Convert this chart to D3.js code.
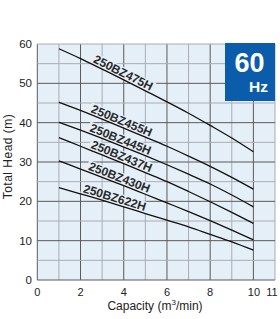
<!DOCTYPE html>
<html>
<head>
<meta charset="utf-8">
<script src="https://cdn.jsdelivr.net/npm/d3@7"></script>
<style>
  html, body { margin: 0; padding: 0; background: #fff; }
  svg { display: block; }
  text { font-family: "Liberation Sans", Arial, sans-serif; }
</style>
</head>
<body>
<svg id="chart" width="280" height="319"></svg>
<script>
// ---- data ----
const capacity = [1, 2, 3, 4, 5, 6, 7, 8, 9, 10];
const seriesNames = ["250BZ475H", "250BZ455H", "250BZ445H", "250BZ437H", "250BZ430H", "250BZ622H"];
const head475 = [58.8, 56.3, 53.6, 50.9, 48.1, 45.3, 42.4, 39.3, 36.1, 32.6];
const head455 = [45.2, 43.1, 40.9, 38.6, 36.3, 34.0, 31.5, 28.9, 26.1, 23.1];
const head445 = [40.1, 38.1, 36.0, 33.8, 31.6, 29.3, 26.9, 24.4, 21.6, 18.6];
const head437 = [36.2, 34.0, 31.8, 29.6, 27.3, 25.0, 22.5, 19.9, 17.2, 14.4];
const head430 = [30.3, 28.2, 26.1, 24.0, 21.8, 19.6, 17.4, 15.1, 12.7, 10.2];
const head622 = [23.5, 21.9, 20.3, 18.6, 16.9, 15.2, 13.5, 11.6, 9.7, 7.6];
const labelAt = [3.85, 3.8, 3.75, 3.8, 3.7, 3.5];
const xTickValues = [0, 2, 4, 6, 8, 10, 11];
const yTickValues = [0, 10, 20, 30, 40, 50, 60];
const xTitle = "Capacity (m";
const yTitle = "Total Head (m)";
const freqLabel = "60";
const freqUnit = "Hz";

const allHeads = [head475, head455, head445, head437, head430, head622];

// ---- layout ----
const svg = d3.select("#chart");
const L = 37.3, R = 275, T = 44, B = 280;
const x = d3.scaleLinear().domain([0, 11]).range([L, R]);
const y = d3.scaleLinear().domain([0, 60]).range([B, T]);

// plot background
svg.append("rect").attr("x", L).attr("y", T).attr("width", R - L).attr("height", B - T)
  .attr("fill", "#e5eff8");

// grid
const gx = d3.range(0, 12, 1);
const gy = d3.range(0, 61, 5);
svg.append("g").selectAll("line").data(gx).join("line")
  .attr("x1", d => x(d)).attr("x2", d => x(d)).attr("y1", T).attr("y2", B)
  .attr("stroke", d => (d % 2 === 0 && d < 11) ? "#5a5a5a" : "#a9acb4")
  .attr("stroke-width", 1);
svg.append("g").selectAll("line").data(gy).join("line")
  .attr("x1", L).attr("x2", R).attr("y1", d => y(d)).attr("y2", d => y(d))
  .attr("stroke", d => (d % 10 === 0 && d < 60) ? "#5a5a5a" : "#a9acb4")
  .attr("stroke-width", 1);

// curves
const line = d3.line().x(d => x(d[0])).y(d => y(d[1])).curve(d3.curveMonotoneX);
function interp(vals, u) {
  const i = Math.max(0, Math.min(capacity.length - 2, Math.floor(u - capacity[0])));
  const t = (u - capacity[i]) / (capacity[i + 1] - capacity[i]);
  return vals[i] + t * (vals[i + 1] - vals[i]);
}

const labelG = svg.append("g");
const curveG = svg.append("g");
const textG = svg.append("g");

allHeads.forEach((vals, k) => {
  const pts = capacity.map((c, i) => [c, vals[i]]);
  curveG.append("path").attr("d", line(pts))
    .attr("fill", "none").attr("stroke", "#111").attr("stroke-width", 1.3);

  const u = labelAt[k];
  const px = x(u), py = y(interp(vals, u));
  const x1 = x(u - 1.2), y1 = y(interp(vals, u - 1.2));
  const x2 = x(u + 1.2), y2 = y(interp(vals, u + 1.2));
  const ang = Math.atan2(y2 - y1, x2 - x1) * 180 / Math.PI;

  const tg = textG.append("g").attr("transform", `translate(${px},${py}) rotate(${ang})`);
  const t = tg.append("text").attr("x", 0).attr("y", -2)
    .attr("text-anchor", "middle").attr("font-size", 12).attr("font-weight", "bold")
    .attr("fill", "#2a2a2a")
    .text(seriesNames[k]);
  const w = t.node().getComputedTextLength();
  labelG.append("rect")
    .attr("transform", `translate(${px},${py}) rotate(${ang})`)
    .attr("x", -w / 2 - 2).attr("y", -11.5).attr("width", w + 4).attr("height", 11)
    .attr("fill", "#e5eff8");
});

// y ticks
svg.append("g").selectAll("text").data(yTickValues).join("text")
  .attr("x", 32).attr("y", d => y(d) + 4).attr("text-anchor", "end")
  .attr("font-size", 11.5).attr("fill", "#222").text(d => d);

// x ticks
svg.append("g").selectAll("text").data(xTickValues).join("text")
  .attr("x", d => x(d) + (d === 11 ? -3 : d === 10 ? 0.5 : 0)).attr("y", 296)
  .attr("text-anchor", "middle").attr("font-size", 11).attr("fill", "#222").text(d => d);

// x title
const xt = svg.append("text").attr("x", 155).attr("y", 310).attr("text-anchor", "middle")
  .attr("font-size", 12).attr("fill", "#222");
xt.append("tspan").text(xTitle);
xt.append("tspan").attr("font-size", 8).attr("dy", -5).text("3");
xt.append("tspan").attr("dy", 5).text("/min)");

// y title
svg.append("text").attr("transform", "translate(12,156.5) rotate(-90)")
  .attr("text-anchor", "middle").attr("font-size", 12).attr("letter-spacing", 0.5)
  .attr("fill", "#222").text(yTitle);

// Hz box
svg.append("rect").attr("x", 225).attr("y", 43).attr("width", 50).attr("height", 58)
  .attr("fill", "#0b5cab");
svg.append("text").attr("x", 249.5).attr("y", 71.5).attr("text-anchor", "middle")
  .attr("font-size", 27).attr("font-weight", "bold").attr("fill", "#fff").text(freqLabel);
svg.append("text").attr("x", 268).attr("y", 92).attr("text-anchor", "end")
  .attr("font-size", 15.5).attr("font-weight", "bold").attr("fill", "#fff").text(freqUnit);
</script>
</body>
</html>
